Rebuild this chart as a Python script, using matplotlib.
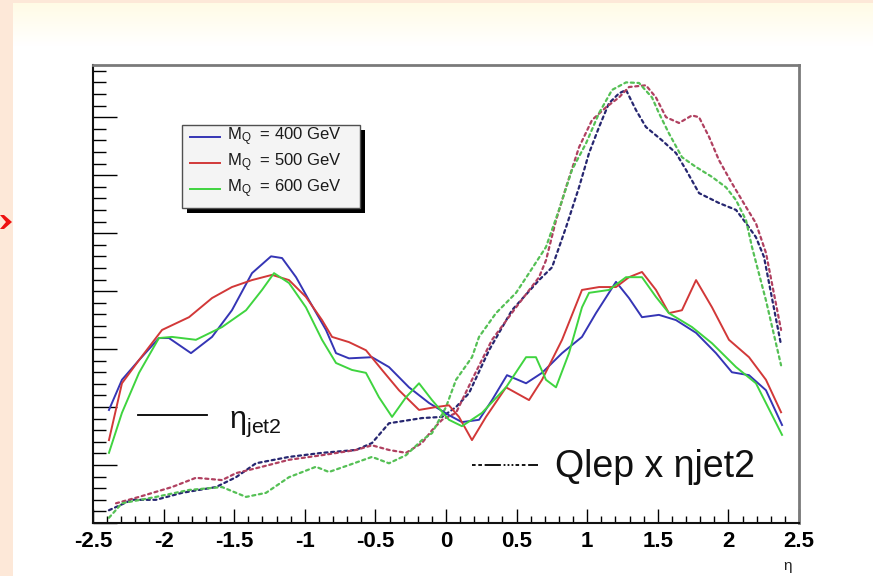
import matplotlib
matplotlib.use("Agg")
import numpy as np
import matplotlib.pyplot as plt
from matplotlib.patches import Rectangle, Polygon
from matplotlib.lines import Line2D
from matplotlib.ticker import MultipleLocator, FixedLocator, FixedFormatter

plt.rcParams['font.family'] = ['Liberation Sans', 'DejaVu Sans']
plt.rcParams['mathtext.fontset'] = 'custom'
plt.rcParams['mathtext.rm'] = 'Liberation Sans'
plt.rcParams['mathtext.it'] = 'Liberation Sans'

W, H = 873, 576

masses = ["400", "500", "600"]
colors = ["#3535b5", "#d23838", "#3fd43f"]
dash_colors = ["#262670", "#b04060", "#55c055"]

# eta_jet2 (solid)
eta_jet_400 = [-2.387, -2.295, -2.174, -2.033, -1.962, -1.806, -1.657, -1.516, -1.374, -1.239,
               -1.161, -1.062, -0.970, -0.850, -0.779, -0.687, -0.524, -0.404, -0.262, -0.120,
               0.021, 0.113, 0.234, 0.326, 0.432, 0.567, 0.680, 0.822, 0.963, 1.062,
               1.204, 1.296, 1.388, 1.508, 1.629, 1.771, 1.912, 2.025, 2.146, 2.266, 2.380]
n_jet_400 = [19.5, 24.7, 28.1, 31.9, 31.9, 29.3, 32.1, 36.7, 43.1, 46.0,
             45.7, 42.4, 38.4, 33.3, 29.3, 28.4, 28.6, 26.9, 23.4, 20.7,
             18.6, 17.4, 17.8, 21.2, 25.5, 24.1, 25.9, 29.3, 32.1, 36.2,
             41.6, 38.8, 35.5, 35.9, 35.0, 32.8, 29.3, 26.0, 25.5, 22.9, 16.9]

eta_jet_500 = [-2.387, -2.295, -2.174, -2.011, -1.820, -1.657, -1.516, -1.374, -1.232, -1.112,
               -0.992, -0.878, -0.807, -0.687, -0.567, -0.453, -0.333, -0.191, -0.071, 0.021,
               0.092, 0.184, 0.283, 0.425, 0.588, 0.680, 0.822, 0.963, 1.084, 1.204,
               1.296, 1.388, 1.487, 1.579, 1.671, 1.771, 1.884, 2.004, 2.146, 2.266, 2.373]
n_jet_500 = [14.3, 24.1, 28.1, 33.3, 35.5, 38.8, 40.7, 41.9, 42.8, 41.9,
             39.0, 35.0, 32.1, 31.2, 29.8, 26.4, 22.9, 19.5, 20.0, 20.3,
             18.3, 14.3, 18.3, 23.4, 21.2, 24.7, 31.6, 40.2, 40.7, 40.7,
             42.4, 43.3, 40.2, 36.2, 36.7, 41.9, 37.2, 31.6, 28.6, 24.7, 19.1]

eta_jet_600 = [-2.387, -2.295, -2.174, -2.033, -1.941, -1.771, -1.586, -1.416, -1.303, -1.218,
               -1.112, -0.992, -0.878, -0.779, -0.666, -0.567, -0.475, -0.382, -0.283, -0.191,
               -0.099, 0.021, 0.113, 0.255, 0.425, 0.567, 0.637, 0.708, 0.779, 0.871,
               0.963, 1.013, 1.154, 1.275, 1.388, 1.487, 1.579, 1.742, 1.884, 2.054,
               2.195, 2.380]
n_jet_600 = [12.1, 19.0, 25.9, 31.9, 32.1, 31.6, 33.8, 36.7, 40.2, 43.1,
             41.4, 37.2, 31.6, 27.6, 26.4, 25.9, 21.7, 18.3, 21.7, 24.1,
             21.2, 17.8, 16.7, 19.0, 23.4, 28.6, 28.6, 24.7, 23.4, 29.3,
             37.2, 39.7, 40.2, 42.4, 42.4, 39.0, 36.2, 33.8, 31.0, 26.9,
             24.1, 15.2]

# Qlep x eta_jet2 (dashed)
eta_q_400 = [-2.387, -2.224, -2.054, -1.870, -1.629, -1.487, -1.346, -1.112, -0.878, -0.637,
             -0.524, -0.404, -0.170, -0.028, 0.071, 0.163, 0.305, 0.467, 0.659, 0.751,
             0.850, 0.942, 1.013, 1.084, 1.154, 1.225, 1.275, 1.346, 1.416, 1.530,
             1.629, 1.700, 1.792, 1.933, 2.054, 2.125, 2.195, 2.252, 2.373]
n_q_400 = [2.2, 4.0, 4.0, 5.2, 6.2, 7.9, 10.3, 11.4, 12.1, 12.6,
           13.8, 17.2, 18.1, 18.3, 20.0, 22.4, 29.8, 36.7, 41.9, 44.1,
           51.0, 57.9, 63.8, 68.3, 72.4, 74.1, 74.7, 71.2, 68.3, 66.0,
           63.8, 60.9, 56.9, 55.2, 54.0, 51.7, 49.3, 45.9, 30.7]

eta_q_500 = [-2.337, -2.174, -1.941, -1.771, -1.586, -1.487, -1.303, -1.112, -0.878, -0.637,
             -0.524, -0.404, -0.283, -0.170, -0.099, -0.028, 0.071, 0.184, 0.326, 0.496,
             0.659, 0.708, 0.779, 0.850, 0.942, 1.034, 1.133, 1.225, 1.296, 1.416,
             1.487, 1.558, 1.650, 1.742, 1.792, 1.863, 1.933, 2.025, 2.125, 2.195,
             2.266, 2.373]
n_q_500 = [3.4, 4.5, 6.2, 7.8, 7.4, 8.6, 9.7, 10.9, 11.7, 12.6,
           13.4, 12.6, 12.1, 13.8, 16.0, 17.8, 19.0, 24.7, 31.6, 37.2,
           42.4, 45.3, 52.2, 57.9, 64.8, 69.5, 71.7, 73.4, 75.2, 75.5,
           73.4, 70.0, 69.0, 70.3, 70.0, 66.6, 62.6, 58.6, 54.5, 51.7,
           46.6, 33.3]

eta_q_600 = [-2.387, -2.295, -2.054, -1.820, -1.586, -1.416, -1.275, -1.112, -0.921, -0.829,
             -0.687, -0.524, -0.404, -0.283, -0.170, -0.099, 0.000, 0.071, 0.184, 0.234,
             0.354, 0.496, 0.588, 0.708, 0.800, 0.892, 0.992, 1.084, 1.176, 1.275,
             1.367, 1.459, 1.508, 1.579, 1.671, 1.771, 1.884, 1.983, 2.054, 2.125,
             2.167, 2.266, 2.373]
n_q_600 = [0.9, 3.4, 4.5, 5.7, 6.2, 4.5, 5.2, 7.9, 9.7, 8.8,
           10.0, 11.4, 10.3, 11.7, 14.3, 15.5, 20.0, 24.7, 28.6, 32.1,
           36.2, 39.7, 43.1, 47.6, 54.0, 60.9, 65.5, 70.7, 74.7, 76.0,
           75.9, 73.4, 70.7, 67.2, 63.1, 61.4, 59.7, 57.9, 55.7, 52.2,
           47.6, 38.4, 27.2]

x_tick_values = [-2.5, -2, -1.5, -1, -0.5, 0, 0.5, 1, 1.5, 2, 2.5]
x_tick_labels = ["-2.5", "-2", "-1.5", "-1", "-0.5", "0", "0.5", "1", "1.5", "2", "2.5"]


def fx(px):
    return px / W


def fy(py):
    return 1 - py / H


fig = plt.figure(figsize=(W / 100, H / 100), dpi=100, facecolor="white")

# slide background: peach margins and a pale yellow band fading to white
fig.patches.append(Rectangle((0, 0), fx(13), 1, transform=fig.transFigure,
                             facecolor="#fde8d8", edgecolor="none", zorder=0))
fig.patches.append(Rectangle((0, fy(3)), 1, 3 / H, transform=fig.transFigure,
                             facecolor="#fde8d8", edgecolor="none", zorder=0))
band = fig.add_axes([fx(13), fy(46), 1 - fx(13), 43 / H], zorder=-1)
grad = np.linspace(0, 1, 64)[:, None]
top_c = np.array([1.0, 0.985, 0.90])
bot_c = np.array([1.0, 1.0, 1.0])
img = top_c[None, None, :] * (1 - grad[:, :, None]) + bot_c[None, None, :] * grad[:, :, None]
band.imshow(img, aspect="auto", extent=[0, 1, 0, 1])
band.axis("off")

# red arrow tip on the left margin
fig.patches.append(Polygon([(fx(0), fy(215)), (fx(4), fy(215)), (fx(12), fy(222)),
                            (fx(4), fy(229)), (fx(0), fy(229)), (fx(6), fy(222))],
                           closed=True, transform=fig.transFigure,
                           facecolor="#ee1111", edgecolor="none", zorder=3))

ax = fig.add_axes([fx(93), fy(523), fx(799) - fx(93), (523 - 65) / H])
ax.set_facecolor("white")

jets = [(eta_jet_400, n_jet_400), (eta_jet_500, n_jet_500), (eta_jet_600, n_jet_600)]
qleps = [(eta_q_400, n_q_400), (eta_q_500, n_q_500), (eta_q_600, n_q_600)]
for (ex, ny), c in zip(qleps, dash_colors):
    ax.plot(ex, ny, color=c, lw=1.6, linestyle=(0, (1.4, 1.6)), zorder=2,
            dash_joinstyle="round", dash_capstyle="round")
for (ex, ny), c in zip(jets, colors):
    ax.plot(ex, ny, color=c, lw=1.4, zorder=3, solid_joinstyle="round")

ax.set_xlim(-2.5, 2.5)
ax.set_ylim(0, 79)

ax.xaxis.set_major_locator(FixedLocator(x_tick_values))
ax.xaxis.set_major_formatter(FixedFormatter(x_tick_labels))
ax.xaxis.set_minor_locator(MultipleLocator(0.1))
ax.yaxis.set_major_locator(MultipleLocator(10))
ax.yaxis.set_minor_locator(MultipleLocator(2))
ax.tick_params(axis="x", which="major", direction="in", length=10, width=1,
               pad=6, labelsize=16, top=False)
ax.tick_params(axis="x", which="minor", direction="in", length=5, width=1, top=False)
ax.tick_params(axis="y", which="major", direction="in", length=17, width=1,
               labelleft=False, right=False)
ax.tick_params(axis="y", which="minor", direction="in", length=9, width=1, right=False)
for lab in ax.get_xticklabels():
    lab.set_fontweight("bold")

for side in ("left", "bottom"):
    ax.spines[side].set_color("#111111")
    ax.spines[side].set_linewidth(1.5)
for side in ("top", "right"):
    ax.spines[side].set_color("#7a7a7a")
    ax.spines[side].set_linewidth(2.0)

fig.text(fx(788), fy(566), "η", fontsize=11, ha="center", va="center", color="#222222")

# legend box with drop shadow
fig.patches.append(Rectangle((fx(187), fy(213)), fx(365) - fx(187), (213 - 130) / H,
                             transform=fig.transFigure, facecolor="black",
                             edgecolor="none", zorder=5))
fig.patches.append(Rectangle((fx(182), fy(208)), fx(360) - fx(182), (208 - 125) / H,
                             transform=fig.transFigure, facecolor="#f4f4f4",
                             edgecolor="#505050", lw=1, zorder=6))
for i, (m, c) in enumerate(zip(masses, colors)):
    yy = 137 + 26 * i
    fig.lines.append(Line2D([fx(190), fx(220)], [fy(yy), fy(yy)], color=c, lw=1.4,
                            transform=fig.transFigure, zorder=7))
    fig.text(fx(227), fy(yy), r"M$_{\rm Q}$  = " + m + " GeV", fontsize=12,
             ha="left", va="center", color="#1a1a1a", zorder=8)

# line-style key
fig.lines.append(Line2D([fx(138), fx(207)], [fy(415), fy(415)], color="black", lw=1.3,
                        transform=fig.transFigure, zorder=7))
fig.text(fx(229), fy(428), r"η$_{\rm jet2}$", fontsize=22, ha="left", va="baseline",
         color="#111111")
fig.lines.append(Line2D([fx(472), fx(538)], [fy(465), fy(465)], color="black", lw=1.3,
                        linestyle=(0, (2, 1.5, 2, 1.5, 9, 1.5, 1, 1.2, 1, 1.2, 1, 1.2)),
                        transform=fig.transFigure, zorder=7))
fig.text(fx(555), fy(477), "Qlep x ηjet2", fontsize=27, ha="left", va="baseline",
         color="#111111")

fig.savefig("out.png", dpi=100, facecolor=fig.get_facecolor())
